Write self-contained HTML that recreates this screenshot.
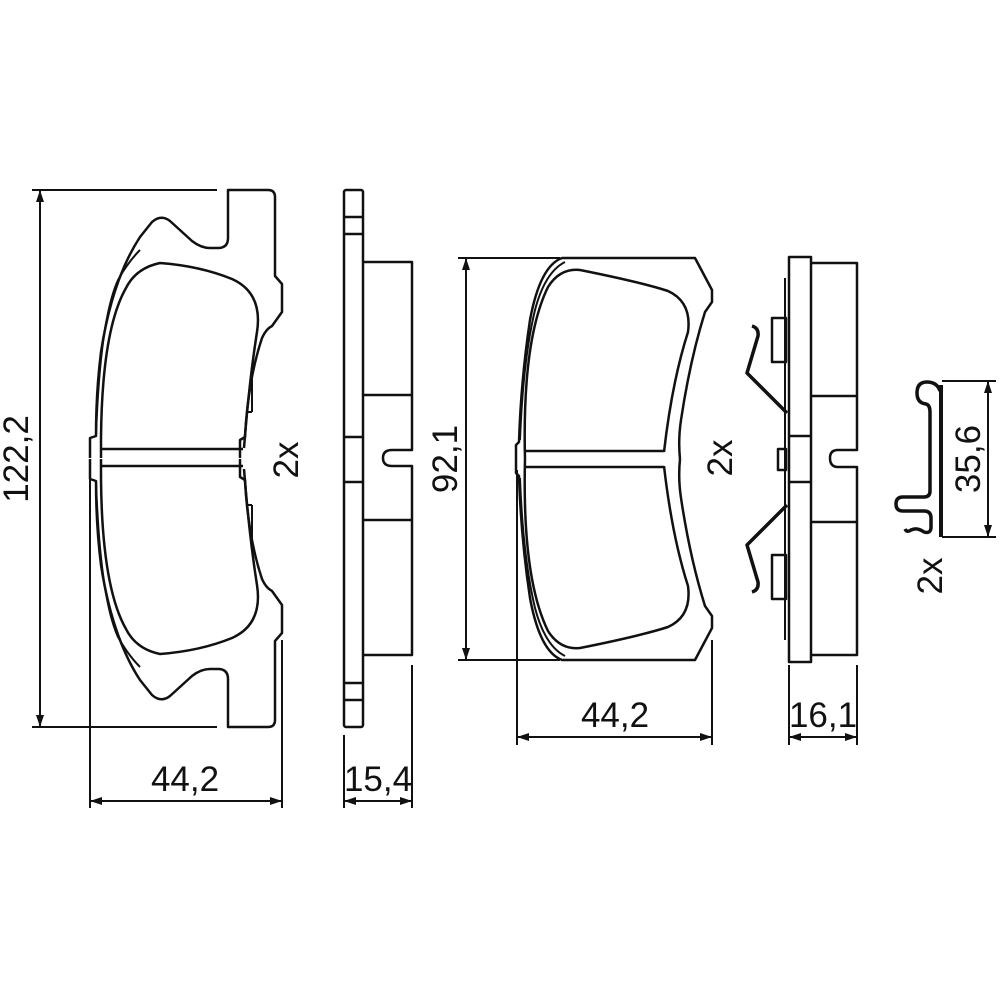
<!DOCTYPE html>
<html><head><meta charset="utf-8"><style>
html,body{margin:0;padding:0;background:#fff;}
svg{display:block;}
text{font-family:"Liberation Sans",sans-serif;font-size:35px;fill:#111;}
</style></head><body>
<svg width="1000" height="1000" viewBox="0 0 1000 1000" xmlns="http://www.w3.org/2000/svg">
<defs>
<marker id="a" viewBox="0 0 12 8" refX="12" refY="4" markerWidth="12" markerHeight="8" markerUnits="userSpaceOnUse" orient="auto-start-reverse"><path d="M0,0 L12,4 L0,8 Z" fill="#111"/></marker>
</defs>
<g fill="none" stroke="#111" stroke-width="2.5" stroke-linejoin="round">
<!-- LEFT PAD top half -->
<g id="lt">
<path d="M240,458 V440 L245,437 Q248,380 262,338 Q266,329 272,326 L282,312 V284 L275,276 V197 Q275,190 268,190 H228 V238 Q228,248 218,248 H210 Q201,248 192,241 L170,221 Q161,214 152,222 L140,237 Q112,280 101,352 Q96,392 96,436 L90,438 V458"/>
<path d="M101,458 V438 Q102,330 126,288 Q136,268 160,263 Q200,266 232,279 Q263,293 257,332 Q249,383 244,448"/>
<path d="M96,436 Q100,320 118,280 Q128,262 140,250" stroke-width="2"/>
<path d="M252,375 V412 M248,412 H252" stroke-width="2"/>
</g>
<use href="#lt" transform="translate(0,917) scale(1,-1)"/>
<line x1="101" y1="449" x2="243" y2="449"/><line x1="101" y1="466" x2="243" y2="466"/>

<!-- SIDE VIEW 1 -->
<rect x="344" y="190" width="19" height="537" rx="2"/>
<line x1="344" y1="217" x2="363" y2="217"/><line x1="344" y1="234" x2="363" y2="234"/>
<line x1="344" y1="437" x2="363" y2="437"/><line x1="344" y1="482" x2="363" y2="482"/>
<line x1="344" y1="683" x2="363" y2="683"/><line x1="344" y1="700" x2="363" y2="700"/>
<path d="M363,262 H412 V450 H392 Q383,450 383,458 Q383,466 392,466 H412 V655 H363"/>
<line x1="363" y1="395" x2="412" y2="395"/><line x1="363" y1="520" x2="412" y2="520"/>

<!-- MIDDLE PAD -->
<g id="mt">
<path d="M516,459 V445 L519,442 Q521,380 530,320 Q540,266 562,258 H695 L712,290 V302 L705,312 Q690,360 681,420 Q678,440 680,459"/>
<path d="M525,459 Q522,340 548,287 Q560,268 580,270 Q640,282 668,291 Q692,302 688,332 Q672,382 664,452"/>
<path d="M520,440 Q523,360 535,310 Q545,272 565,262" stroke-width="2"/>
</g>
<use href="#mt" transform="translate(0,918) scale(1,-1)"/>
<line x1="525" y1="451" x2="664" y2="451"/><line x1="525" y1="467" x2="664" y2="467"/>

<!-- SIDE VIEW 2 -->
<rect x="789" y="257" width="22" height="405"/>
<line x1="789" y1="436" x2="811" y2="436"/><line x1="789" y1="482" x2="811" y2="482"/>
<line x1="785" y1="278" x2="785" y2="640" stroke-width="2"/>
<path d="M811,263 H857 V450 H838 Q830,450 830,458 Q830,467 838,467 H857 V655 H811"/>
<line x1="811" y1="396" x2="857" y2="396"/><line x1="811" y1="522" x2="857" y2="522"/>
<rect x="772" y="318" width="14" height="44"/>
<rect x="772" y="555" width="14" height="44"/>
<rect x="778" y="449" width="8" height="21"/>
<path d="M787,413 L747,373 L758,336 Q759,328 752,326" stroke-width="3.5"/>
<path d="M787,505 L747,545 L758,582 Q759,590 752,592" stroke-width="3.5"/>

<!-- CLIP -->
<path d="M941,385 V537" stroke-width="4"/>
<path d="M940,391 Q937,382 927,382 Q917,382 917,393 Q917,403 926,404 Q930,405 930,412 V491 Q930,497 924,497 H903 Q896,497 896,504 Q896,511 903,511 H924 Q931,511 931,518 V527 Q931,534 924,532 Q917,527 911,530 Q907,533 905,529" stroke-width="3.5"/>

<!-- DIMENSIONS -->
<g stroke-width="2">
<line x1="32" y1="190" x2="217" y2="190"/><line x1="32" y1="727" x2="217" y2="727"/>
<line x1="40" y1="190" x2="40" y2="727" marker-start="url(#a)" marker-end="url(#a)"/>
<line x1="90" y1="460" x2="90" y2="808"/><line x1="282" y1="640" x2="282" y2="808"/>
<line x1="90" y1="801" x2="282" y2="801" marker-start="url(#a)" marker-end="url(#a)"/>
<line x1="344" y1="735" x2="344" y2="808"/><line x1="412" y1="665" x2="412" y2="808"/>
<line x1="344" y1="801" x2="412" y2="801" marker-start="url(#a)" marker-end="url(#a)"/>
<line x1="458" y1="258" x2="560" y2="258"/><line x1="458" y1="660" x2="560" y2="660"/>
<line x1="466" y1="258" x2="466" y2="660" marker-start="url(#a)" marker-end="url(#a)"/>
<line x1="517" y1="470" x2="517" y2="745"/><line x1="712" y1="640" x2="712" y2="745"/>
<line x1="517" y1="737" x2="712" y2="737" marker-start="url(#a)" marker-end="url(#a)"/>
<line x1="789" y1="665" x2="789" y2="745"/><line x1="857" y1="665" x2="857" y2="745"/>
<line x1="789" y1="737" x2="857" y2="737" marker-start="url(#a)" marker-end="url(#a)"/>
<line x1="942" y1="381" x2="996" y2="381"/><line x1="942" y1="537" x2="996" y2="537"/>
<line x1="988" y1="381" x2="988" y2="537" marker-start="url(#a)" marker-end="url(#a)"/>
</g>
</g>
<g text-anchor="middle">
<text x="185" y="791">44,2</text>
<text x="378" y="791">15,4</text>
<text x="615" y="727">44,2</text>
<text x="823" y="727">16,1</text>
<text transform="translate(28,459) rotate(-90)">122,2</text>
<text transform="translate(298,460) rotate(-90)">2x</text>
<text transform="translate(457,459) rotate(-90)">92,1</text>
<text transform="translate(732,458) rotate(-90)">2x</text>
<text transform="translate(980,459) rotate(-90)">35,6</text>
<text transform="translate(942,576) rotate(-90)">2x</text>
</g>
</svg>
</body></html>
